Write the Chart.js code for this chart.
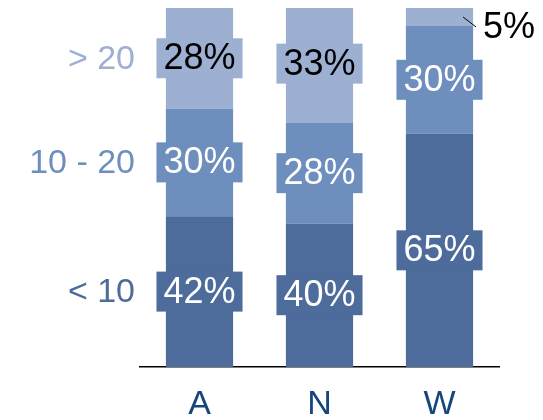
<!DOCTYPE html>
<html>
<head>
<meta charset="utf-8">
<script src="https://cdn.jsdelivr.net/npm/chart.js@4"></script>
<style>
  html, body { margin: 0; padding: 0; background: #fff; }
  canvas { display: block; }
</style>
</head>
<body>
<canvas id="shareChart" width="543" height="420"></canvas>
<script>
  const categories = ["A", "N", "W"];
  const seriesNames = ["< 10", "10 - 20", "> 20"];
  const under10 = [42, 40, 65];
  const from10to20 = [30, 28, 30];
  const over20 = [28, 33, 5];

  const seriesColors = ["#4d6c9b", "#6e8fbe", "#9db0d2"];
  const labelColors = ["#ffffff", "#ffffff", "#000000"];
  const FONT = "Liberation Sans, Arial, sans-serif";

  // value labels sit on a box the colour of the segment, small ones go outside with a leader
  const segmentLabels = {
    id: "segmentLabels",
    afterDatasetsDraw(chart) {
      const ctx = chart.ctx;
      ctx.save();
      ctx.font = "36px " + FONT;
      ctx.textBaseline = "middle";
      chart.data.datasets.forEach((ds, di) => {
        const meta = chart.getDatasetMeta(di);
        meta.data.forEach((bar, i) => {
          const v = ds.data[i];
          const txt = v + "%";
          const top = Math.min(bar.y, bar.base);
          const h = Math.abs(bar.base - bar.y);
          const cy = top + h / 2;
          if (h < 40) {
            const x0 = bar.x + bar.width * 0.35;
            ctx.strokeStyle = "#000";
            ctx.lineWidth = 1;
            ctx.beginPath();
            ctx.moveTo(x0, cy);
            ctx.lineTo(x0 + 13, cy + 10);
            ctx.stroke();
            ctx.fillStyle = "#000";
            ctx.textAlign = "left";
            ctx.fillText(txt, x0 + 20, cy + 11);
            return;
          }
          const w = ctx.measureText(txt).width + 14;
          ctx.fillStyle = ds.backgroundColor;
          ctx.fillRect(bar.x - w / 2, cy - 20, w, 40);
          ctx.fillStyle = labelColors[di];
          ctx.textAlign = "center";
          ctx.fillText(txt, bar.x, cy + 1);
        });
      });

      // series names on the left, lined up with the first column
      ctx.font = "34px " + FONT;
      ctx.textAlign = "right";
      chart.data.datasets.forEach((ds, di) => {
        const bar = chart.getDatasetMeta(di).data[0];
        const cy = (bar.y + bar.base) / 2;
        ctx.fillStyle = seriesColors[di];
        ctx.fillText(ds.label, 135, cy + 1);
      });
      ctx.restore();
    }
  };

  const seriesValues = [under10, from10to20, over20];

  new Chart(document.getElementById("shareChart"), {
    type: "bar",
    data: {
      labels: categories,
      datasets: seriesValues.map((vals, k) => ({
        label: seriesNames[k],
        data: vals,
        backgroundColor: seriesColors[k],
        borderWidth: 0,
        categoryPercentage: 1,
        barPercentage: 0.56
      }))
    },
    options: {
      responsive: false,
      animation: false,
      layout: { padding: { top: 8, left: 139.5, right: 43.5, bottom: 0 } },
      plugins: {
        legend: { display: false },
        tooltip: { enabled: false },
        title: { display: false }
      },
      scales: {
        x: {
          stacked: true,
          grid: { display: false },
          border: { display: true, color: "#000", width: 1.5 },
          ticks: { color: "#17467a", padding: 19, font: { family: FONT, size: 34, lineHeight: 0.6 } },
          // fixed band under the baseline for the category letters
          afterFit: scale => { scale.height = 53; }
        },
        y: {
          stacked: true,
          display: false,
          min: 0,
          max: 100
        }
      }
    },
    plugins: [segmentLabels]
  });
</script>
</body>
</html>
